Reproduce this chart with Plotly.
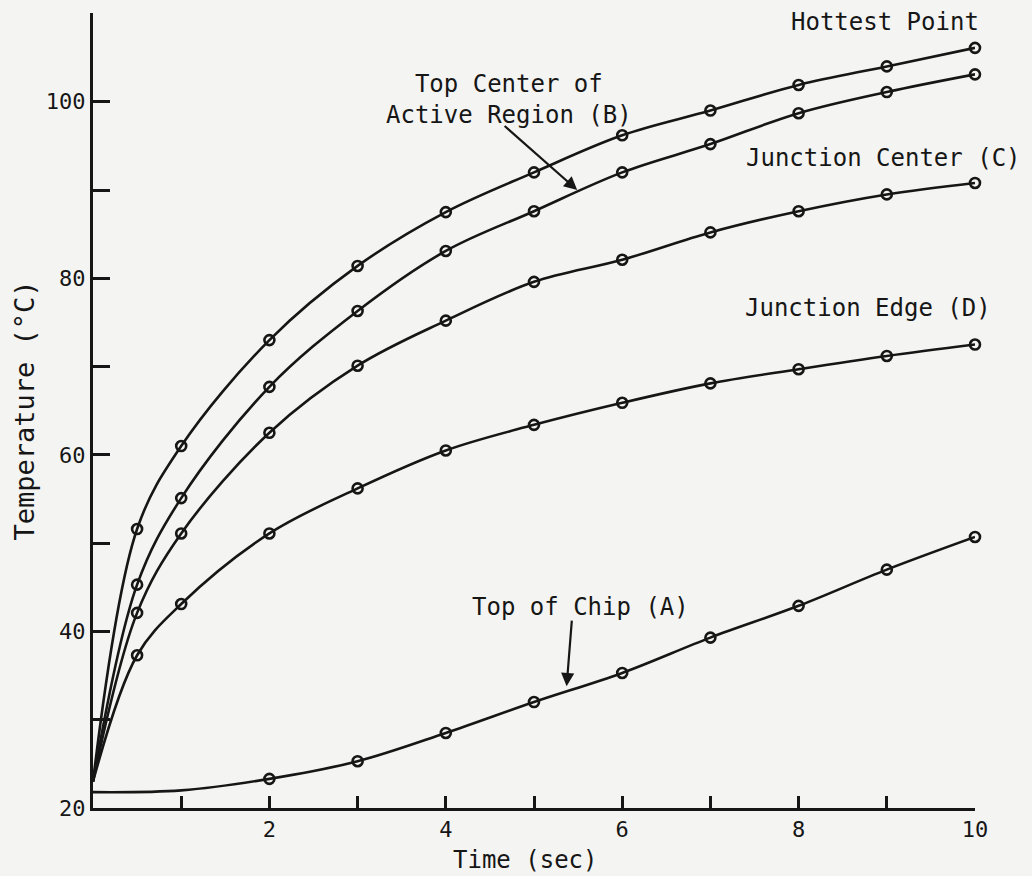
import plotly.graph_objects as go

# ---- data ----
time_pts = [0.5, 1, 2, 3, 4, 5, 6, 7, 8, 9, 10]
hottest = [51.6, 61.0, 73.0, 81.4, 87.5, 92.0, 96.2, 99.0, 101.9, 104.0, 106.1]
top_center_B = [45.3, 55.1, 67.7, 76.3, 83.1, 87.6, 92.0, 95.2, 98.7, 101.1, 103.1]
junction_center_C = [42.1, 51.1, 62.5, 70.1, 75.2, 79.6, 82.1, 85.2, 87.6, 89.5, 90.8]
junction_edge_D = [37.3, 43.1, 51.1, 56.2, 60.5, 63.4, 65.9, 68.1, 69.7, 71.2, 72.5]

time_A = [2, 3, 4, 5, 6, 7, 8, 9, 10]
top_of_chip_A = [23.3, 25.3, 28.5, 32.0, 35.3, 39.3, 42.9, 47.0, 50.7]

start_time = [0]
start_temp = [23.0]
A_lead_time = [0, 1]
A_lead_temp = [21.8, 22.0]

x_tick_vals = [2, 4, 6, 8, 10]
y_tick_vals = [20, 40, 60, 80, 100]

INK = "#161616"
BG = "#f4f4f2"
MONO = "DejaVu Sans Mono"

fig = go.Figure()

def add_curve(xs, ys, lead_x, lead_y):
    fig.add_trace(go.Scatter(
        x=lead_x + xs, y=lead_y + ys, mode="lines",
        line=dict(color=INK, width=2.6, shape="spline", smoothing=1.0),
        hoverinfo="skip", showlegend=False, cliponaxis=False))
    fig.add_trace(go.Scatter(
        x=xs, y=ys, mode="markers",
        marker=dict(symbol="circle-open", size=10, color=INK, line=dict(width=2.6, color=INK)),
        showlegend=False, cliponaxis=False))

add_curve(time_pts, hottest, start_time, start_temp)
add_curve(time_pts, top_center_B, start_time, start_temp)
add_curve(time_pts, junction_center_C, start_time, start_temp)
add_curve(time_pts, junction_edge_D, start_time, start_temp)
add_curve(time_A, top_of_chip_A, A_lead_time, A_lead_temp)

tfont = dict(family=MONO, size=24, color=INK)

fig.add_annotation(x=8.98, y=109.0, text="Hottest Point", showarrow=False, font=tfont)
fig.add_annotation(x=4.72, y=100.3, text="Top Center of<br>Active Region (B)", showarrow=False,
                   font=tfont, align="center")
fig.add_annotation(x=8.96, y=93.6, text="Junction Center (C)", showarrow=False, font=tfont)
fig.add_annotation(x=8.79, y=76.6, text="Junction Edge (D)", showarrow=False, font=tfont)
fig.add_annotation(x=5.53, y=42.8, text="Top of Chip (A)", showarrow=False, font=tfont)

# pointers
fig.add_annotation(x=5.49, y=90.0, ax=4.65, ay=97.4, axref="x", ayref="y", text="",
                   showarrow=True, arrowhead=2, arrowsize=1.2, arrowwidth=2.2, arrowcolor=INK)
fig.add_annotation(x=5.37, y=33.8, ax=5.43, ay=41.4, axref="x", ayref="y", text="",
                   showarrow=True, arrowhead=2, arrowsize=1.2, arrowwidth=2.2, arrowcolor=INK)

# x-axis title
fig.add_annotation(x=4.9, y=-0.066, xref="x", yref="paper", text="Time (sec)",
                   showarrow=False, font=tfont, yanchor="middle")

fig.update_layout(
    width=1032, height=876,
    margin=dict(l=93, r=57, t=13, b=68),
    paper_bgcolor=BG, plot_bgcolor=BG,
    font=dict(family=MONO, color=INK),
    showlegend=False,
    xaxis=dict(
        range=[0, 10], showgrid=False, zeroline=False,
        showline=True, linecolor=INK, linewidth=3,
        tickmode="array", tickvals=x_tick_vals, ticktext=[str(v) for v in x_tick_vals],
        ticks="inside", ticklen=12, tickwidth=2.5, tickcolor=INK,
        minor=dict(dtick=1, ticks="inside", ticklen=12, tickwidth=2.5, tickcolor=INK),
        tickfont=dict(family=MONO, size=22, color=INK),
        automargin=False,
    ),
    yaxis=dict(
        range=[20, 110.05], showgrid=False, zeroline=False,
        showline=True, linecolor=INK, linewidth=3,
        tickmode="array", tickvals=y_tick_vals, ticktext=[str(v) for v in y_tick_vals],
        ticks="inside", ticklen=17, tickwidth=2.5, tickcolor=INK,
        minor=dict(dtick=10, tick0=20, ticks="inside", ticklen=17, tickwidth=2.5, tickcolor=INK),
        tickfont=dict(family=MONO, size=22, color=INK),
        title=dict(text="Temperature (°C)", font=dict(family=MONO, size=27, color=INK), standoff=4),
        automargin=False,
    ),
)

fig.write_html("out.html")
